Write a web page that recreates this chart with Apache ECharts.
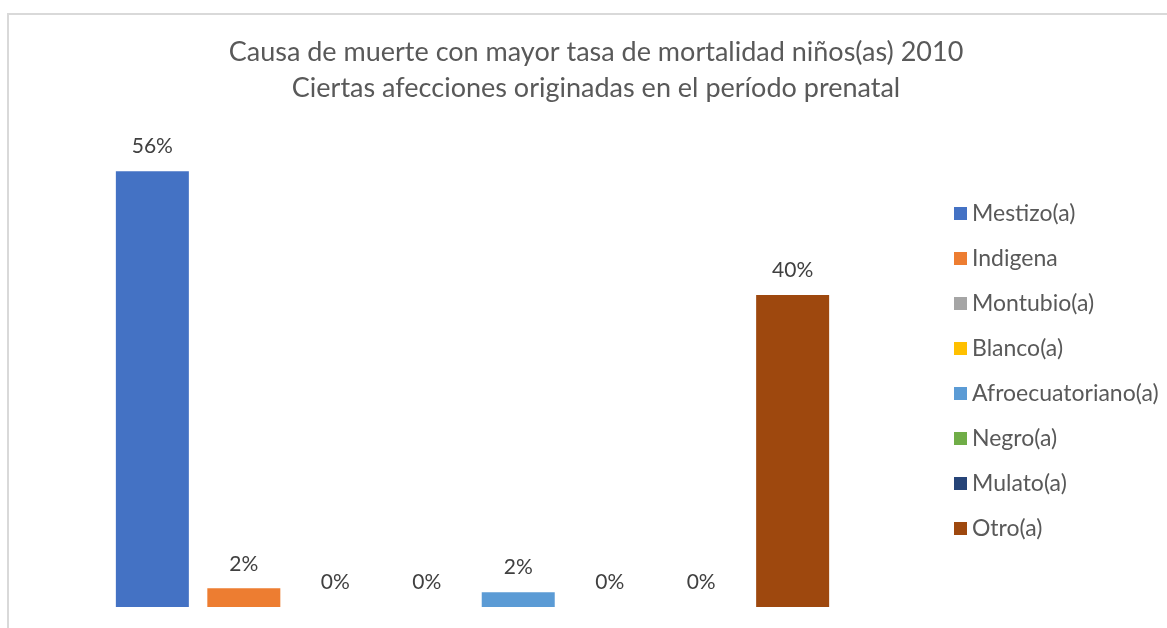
<!DOCTYPE html>
<html>
<head>
<meta charset="utf-8">
<script src="https://cdn.jsdelivr.net/npm/echarts@6/dist/echarts.min.js"></script>
<style>
html,body{margin:0;padding:0;background:#fff;}
#chart{width:1167px;height:628px;}
</style>
</head>
<body>
<div id="chart"></div>
<script>
var seriesNames = ['Mestizo(a)','Indigena','Montubio(a)','Blanco(a)','Afroecuatoriano(a)','Negro(a)','Mulato(a)','Otro(a)'];
var values = [56.0, 2.4, 0, 0, 1.9, 0, 0, 40.1];
var colors = ['#4472C4','#ED7D31','#A5A5A5','#FFC000','#5B9BD5','#70AD47','#264478','#9E480E'];
var titleLines = ['Causa de muerte con mayor tasa de mortalidad niños(as) 2010','Ciertas afecciones originadas en el período prenatal'];

var FONT = 'Lato';
var chart = echarts.init(document.getElementById('chart'));
var series = seriesNames.map(function(n, i){
  return {
    name: n,
    type: 'bar',
    data: [values[i]],
    barWidth: 73,
    barGap: '25.3%',
    itemStyle: {color: colors[i]},
    label: {
      show: true,
      position: 'top',
      distance: 14,
      fontFamily: FONT,
      fontSize: 21,
      color: '#404040',
      formatter: function(p){ return Math.round(p.value) + '%'; }
    }
  };
});
chart.setOption({
  animation: false,
  color: colors,
  title: {
    text: titleLines.join('\n'),
    left: 591,
    top: 29,
    textAlign: 'center',
    textStyle: {fontFamily: FONT, fontSize: 27, fontWeight: 'normal', color: '#595959', lineHeight: 36}
  },
  legend: {
    orient: 'vertical',
    left: 949,
    top: 197,
    itemWidth: 13,
    itemHeight: 13,
    itemGap: 22,
    icon: 'rect',
    data: seriesNames,
    textStyle: {fontFamily: FONT, fontSize: 23, color: '#595959', lineHeight: 23}
  },
  grid: {left: 20, right: 242, top: 140, bottom: 21},
  xAxis: {type: 'category', data: [''], axisLine: {show: false}, axisTick: {show: false}, axisLabel: {show: false}},
  yAxis: {type: 'value', min: 0, max: 60, show: false, splitLine: {show: false}},
  graphic: [{
    type: 'rect',
    shape: {x: 8, y: 14, width: 1200, height: 700},
    style: {fill: 'none', stroke: '#d9d9d9', lineWidth: 2}
  }],
  series: series
});
</script>
</body>
</html>
